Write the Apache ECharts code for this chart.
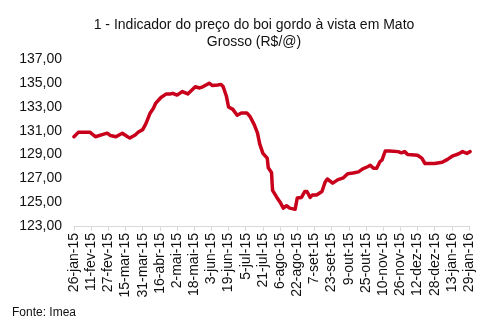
<!DOCTYPE html>
<html>
<head>
<meta charset="utf-8">
<script src="https://cdn.jsdelivr.net/npm/echarts@6/dist/echarts.min.js"></script>
<style>
  html, body { margin: 0; padding: 0; background: #fff; }
  #chart { width: 494px; height: 334px; }
</style>
</head>
<body>
<div id="chart"></div>
<script>
// Preço do boi gordo à vista em Mato Grosso (R$/@), jan/2015 a jan/2016
const dates = [
  '2015-01-26','2015-01-30','2015-02-10','2015-02-15','2015-02-22','2015-02-26',
  '2015-03-01','2015-03-06','2015-03-12','2015-03-17','2015-03-19','2015-03-24',
  '2015-03-27','2015-03-31','2015-04-03','2015-04-07','2015-04-10','2015-04-12',
  '2015-04-17','2015-04-22','2015-04-26','2015-04-28','2015-05-02','2015-05-07',
  '2015-05-12','2015-05-19','2015-05-23','2015-05-26','2015-06-01','2015-06-04',
  '2015-06-09','2015-06-12','2015-06-14','2015-06-17','2015-06-19','2015-06-23',
  '2015-06-27','2015-07-01','2015-07-06','2015-07-09','2015-07-13','2015-07-16',
  '2015-07-18','2015-07-21','2015-07-25','2015-07-26','2015-07-29','2015-07-30',
  '2015-08-03','2015-08-06','2015-08-09','2015-08-12','2015-08-15','2015-08-20',
  '2015-08-22','2015-08-26','2015-08-29','2015-08-31','2015-09-03','2015-09-05',
  '2015-09-09','2015-09-14','2015-09-17','2015-09-19','2015-09-24','2015-09-29',
  '2015-10-04','2015-10-08','2015-10-13','2015-10-18','2015-10-22','2015-10-27',
  '2015-10-29','2015-11-01','2015-11-04','2015-11-07','2015-11-09','2015-11-12',
  '2015-11-16','2015-11-24','2015-11-27','2015-11-30','2015-12-03','2015-12-12',
  '2015-12-16','2015-12-19','2015-12-28','2016-01-04','2016-01-09','2016-01-14',
  '2016-01-19','2016-01-23','2016-01-27','2016-01-30'
];
const prices = [
  130.50,130.87,130.87,130.50,130.70,130.80,
  130.60,130.50,130.80,130.50,130.40,130.65,
  130.90,131.10,131.60,132.50,132.90,133.30,
  133.80,134.10,134.10,134.15,134.00,134.30,
  134.10,134.70,134.60,134.70,135.00,134.80,
  134.85,134.90,134.70,133.90,133.00,132.80,
  132.30,132.50,132.50,132.20,131.50,130.80,
  129.90,129.10,128.70,127.90,127.50,126.00,
  125.40,125.00,124.50,124.70,124.50,124.40,
  125.35,125.40,125.90,125.90,125.40,125.60,
  125.60,125.90,126.70,126.95,126.60,126.90,
  127.05,127.40,127.45,127.55,127.80,128.00,
  128.10,127.85,127.85,128.40,128.55,129.30,
  129.30,129.25,129.15,129.25,129.00,128.95,
  128.70,128.25,128.25,128.35,128.60,128.90,
  129.05,129.25,129.10,129.25
];
// Rótulos do eixo X, um a cada 16 dias a partir de 26-jan-15
const tickLabels = [
  '26-jan-15','11-fev-15','27-fev-15','15-mar-15','31-mar-15','16-abr-15',
  '2-mai-15','18-mai-15','3-jun-15','19-jun-15','5-jul-15','21-jul-15',
  '6-ago-15','22-ago-15','7-set-15','23-set-15','9-out-15','25-out-15',
  '10-nov-15','26-nov-15','12-dez-15','28-dez-15','13-jan-16','29-jan-16'
];
const titleLines = ['1 - Indicador do preço do boi gordo à vista em Mato', 'Grosso (R$/@)'];
const sourceText = 'Fonte: Imea';

const DAY = 86400000;
const origin = Date.parse(dates[0] + 'T00:00:00Z');
const dayOf = s => Math.round((Date.parse(s + 'T00:00:00Z') - origin) / DAY);
const STEP = 16;
const seriesData = dates.map((d, i) => [dayOf(d), prices[i]]);

const FONT = '"Liberation Sans", Arial, Helvetica, sans-serif';
const chart = echarts.init(document.getElementById('chart'), null, { renderer: 'canvas' });
chart.setOption({
  animation: false,
  backgroundColor: '#ffffff',
  grid: { left: 74, right: 25, top: 59.4, bottom: 108, containLabel: false },
  xAxis: {
    type: 'value',
    min: 0,
    max: STEP * (tickLabels.length - 1),
    interval: STEP,
    splitLine: { show: false },
    axisLine: { show: true, onZero: false, lineStyle: { color: '#d9d9d9', width: 1 } },
    axisTick: { show: true, length: 5, lineStyle: { color: '#d9d9d9' } },
    axisLabel: {
      rotate: 90,
      margin: 7,
      color: '#111',
      fontFamily: FONT,
      fontSize: 14,
      showMinLabel: true,
      showMaxLabel: true,
      formatter: v => tickLabels[Math.round(v / STEP)] || ''
    }
  },
  yAxis: {
    type: 'value',
    min: 123,
    max: 137,
    interval: 2,
    splitLine: { show: false },
    axisLine: { show: false },
    axisTick: { show: false },
    axisLabel: {
      margin: 12,
      color: '#111',
      fontFamily: FONT,
      fontSize: 14,
      formatter: v => v.toFixed(2).replace('.', ',')
    }
  },
  series: [{
    type: 'line',
    data: seriesData,
    showSymbol: false,
    symbol: 'none',
    smooth: false,
    lineStyle: { color: '#c8001c', width: 3.5, cap: 'round', join: 'round' }
  }],
  graphic: [
    {
      type: 'text', left: null, x: 254, y: 25,
      style: { text: titleLines[0], font: '14px ' + FONT, fill: '#111', align: 'center', verticalAlign: 'middle' }
    },
    {
      type: 'text', x: 254, y: 42,
      style: { text: titleLines[1], font: '14px ' + FONT, fill: '#111', align: 'center', verticalAlign: 'middle' }
    },
    {
      type: 'text', x: 12, y: 313,
      style: { text: sourceText, font: '12px ' + FONT, fill: '#111', align: 'left', verticalAlign: 'middle' }
    }
  ]
});
</script>
</body>
</html>
